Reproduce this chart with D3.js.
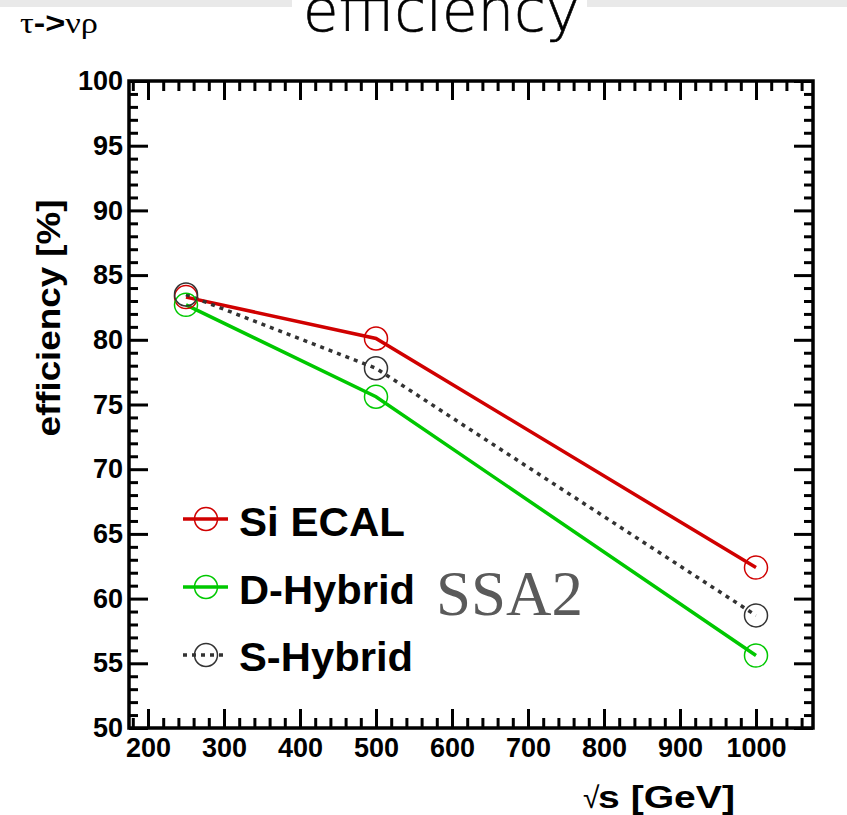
<!DOCTYPE html>
<html>
<head>
<meta charset="utf-8">
<script src="https://cdn.jsdelivr.net/npm/d3@7"></script>
<style>
  html, body { margin: 0; padding: 0; background: #fff; }
  svg { display: block; }
</style>
</head>
<body>
<svg id="chart" width="847" height="815"></svg>
<script>
// Centre-of-mass energies (GeV) and selection efficiency (%) per ECAL option
const energies = [250, 500, 1000];
const siEcal   = [83.3, 80.1, 62.4];
const dHybrid  = [82.7, 75.6, 55.6];
const sHybrid  = [83.5, 77.8, 58.7];

const seriesNames  = ["Si ECAL", "D-Hybrid", "S-Hybrid"];
const seriesColors = ["#d00000", "#00c800", "#333333"];

const xMajorTicks = [200, 300, 400, 500, 600, 700, 800, 900, 1000];
const yMajorTicks = [50, 55, 60, 65, 70, 75, 80, 85, 90, 95, 100];

const svg = d3.select("#chart");
const W = 847, H = 815;
const plot = { left: 129, right: 813, top: 81, bottom: 728 };

const x = d3.scaleLinear().domain([175, 1075]).range([plot.left, plot.right]);
const y = d3.scaleLinear().domain([50, 100]).range([plot.bottom, plot.top]);

const xMinor = d3.range(180, 1075, 20).filter(v => v % 100 !== 0);
const yMinor = d3.range(50, 100.001, 1).filter(v => v % 5 !== 0);

// page header strip
svg.append("rect").attr("x", 0).attr("y", 0).attr("width", 292).attr("height", 7).attr("fill", "#e9e9e9");
svg.append("rect").attr("x", 587).attr("y", 0).attr("width", W - 587).attr("height", 7).attr("fill", "#e9e9e9");

svg.append("text")
  .attr("x", 303).attr("y", 31)
  .attr("textLength", 277).attr("lengthAdjust", "spacingAndGlyphs")
  .style("font-family", "'DejaVu Sans', sans-serif")
  .style("font-weight", 200)
  .style("font-size", "58px")
  .attr("fill", "#000").attr("stroke", "#000").attr("stroke-width", 0.6)
  .text("efficiency");

const decay = svg.append("text").attr("x", 20).attr("y", 33).attr("fill", "#000")
  .attr("textLength", 78).attr("lengthAdjust", "spacingAndGlyphs")
  .style("font-size", "30px").style("font-family", "'Liberation Serif', serif");
decay.append("tspan").text("τ");
decay.append("tspan").style("font-family", "'Liberation Sans', sans-serif").style("font-weight", "bold").text("->");
decay.append("tspan").text("νρ");

// axes: ticks on all four sides, pointing into the frame
const axisFont = "'Liberation Sans', Arial, sans-serif";
function styleAxis(g) {
  g.select(".domain").remove();
  g.selectAll(".tick line").attr("stroke", "#000").attr("stroke-width", 3);
  g.selectAll(".tick text")
    .style("font-family", axisFont).style("font-weight", "bold")
    .attr("fill", "#000");
}

// bottom
svg.append("g").attr("transform", `translate(0,${plot.bottom})`)
  .call(d3.axisBottom(x).tickValues(xMajorTicks).tickSize(-19).tickPadding(8).tickFormat(d3.format("d")))
  .call(styleAxis)
  .call(g => g.selectAll(".tick text").style("font-size", "27px").attr("dy", "0.71em").attr("y", 10));
svg.append("g").attr("transform", `translate(0,${plot.bottom})`)
  .call(d3.axisBottom(x).tickValues(xMinor).tickSize(-10).tickFormat(""))
  .call(styleAxis);
// top
svg.append("g").attr("transform", `translate(0,${plot.top})`)
  .call(d3.axisTop(x).tickValues(xMajorTicks).tickSize(-19).tickFormat(""))
  .call(styleAxis);
svg.append("g").attr("transform", `translate(0,${plot.top})`)
  .call(d3.axisTop(x).tickValues(xMinor).tickSize(-10).tickFormat(""))
  .call(styleAxis);
// left
svg.append("g").attr("transform", `translate(${plot.left},0)`)
  .call(d3.axisLeft(y).tickValues(yMajorTicks).tickSize(-19).tickPadding(6).tickFormat(d3.format("d")))
  .call(styleAxis)
  .call(g => g.selectAll(".tick text").style("font-size", "27px").attr("x", -6));
svg.append("g").attr("transform", `translate(${plot.left},0)`)
  .call(d3.axisLeft(y).tickValues(yMinor).tickSize(-9).tickFormat(""))
  .call(styleAxis);
// right
svg.append("g").attr("transform", `translate(${plot.right},0)`)
  .call(d3.axisRight(y).tickValues(yMajorTicks).tickSize(-19).tickFormat(""))
  .call(styleAxis);
svg.append("g").attr("transform", `translate(${plot.right},0)`)
  .call(d3.axisRight(y).tickValues(yMinor).tickSize(-9).tickFormat(""))
  .call(styleAxis);

// frame
svg.append("rect")
  .attr("x", plot.left).attr("y", plot.top)
  .attr("width", plot.right - plot.left).attr("height", plot.bottom - plot.top)
  .attr("fill", "none").attr("stroke", "#000").attr("stroke-width", 3.5);

// axis titles
svg.append("text")
  .attr("transform", "translate(60,318) rotate(-90)")
  .attr("text-anchor", "middle")
  .attr("textLength", 237).attr("lengthAdjust", "spacingAndGlyphs")
  .style("font-family", axisFont).style("font-weight", "bold").style("font-size", "33px")
  .attr("fill", "#000")
  .text("efficiency [%]");

svg.append("text").attr("x", 583).attr("y", 808).attr("fill", "#000")
  .style("font-family", axisFont).style("font-size", "30px")
  .text("√");
svg.append("text").attr("x", 598).attr("y", 808).attr("fill", "#000")
  .style("font-family", axisFont).style("font-size", "32px").style("font-weight", "bold")
  .attr("textLength", 137).attr("lengthAdjust", "spacingAndGlyphs")
  .text("s [GeV]");

// series
const allSeries = [siEcal, dHybrid, sHybrid].map((vals, i) => ({
  name: seriesNames[i],
  color: seriesColors[i],
  dotted: i === 2,
  points: energies.map((e, j) => ({ e, v: vals[j] }))
}));

const line = d3.line().x(d => x(d.e)).y(d => y(d.v));

const sg = svg.append("g");
allSeries.forEach(s => {
  sg.append("path")
    .attr("d", line(s.points))
    .attr("fill", "none")
    .attr("stroke", s.color)
    .attr("stroke-width", 3.5)
    .attr("stroke-dasharray", s.dotted ? "4,5" : null);
});
allSeries.forEach(s => {
  sg.selectAll(null).data(s.points).enter().append("circle")
    .attr("cx", d => x(d.e)).attr("cy", d => y(d.v)).attr("r", 11.5)
    .attr("fill", "none").attr("stroke", s.color).attr("stroke-width", 1.5);
});

// legend
const legendRows = [519, 587, 655];
const legendBase = [536, 604, 671];
const legendWidths = [166, 176, 174];
allSeries.forEach((s, i) => {
  const g = svg.append("g");
  g.append("line")
    .attr("x1", 183).attr("x2", 228).attr("y1", legendRows[i]).attr("y2", legendRows[i])
    .attr("stroke", s.color).attr("stroke-width", 3.5)
    .attr("stroke-dasharray", s.dotted ? "4,5" : null);
  g.append("circle").attr("cx", 206).attr("cy", legendRows[i]).attr("r", 11.5)
    .attr("fill", "none").attr("stroke", s.color).attr("stroke-width", 1.5);
  g.append("text").attr("x", 239).attr("y", legendBase[i])
    .attr("textLength", legendWidths[i]).attr("lengthAdjust", "spacingAndGlyphs")
    .style("font-family", axisFont).style("font-weight", "bold").style("font-size", "40px")
    .attr("fill", "#000").text(s.name);
});

// configuration tag
svg.append("text").attr("x", 436).attr("y", 615)
  .attr("textLength", 147).attr("lengthAdjust", "spacingAndGlyphs")
  .style("font-family", "'Liberation Serif', serif")
  .style("font-size", "63px").attr("fill", "#5a5a5a")
  .text("SSA2");
</script>
</body>
</html>
